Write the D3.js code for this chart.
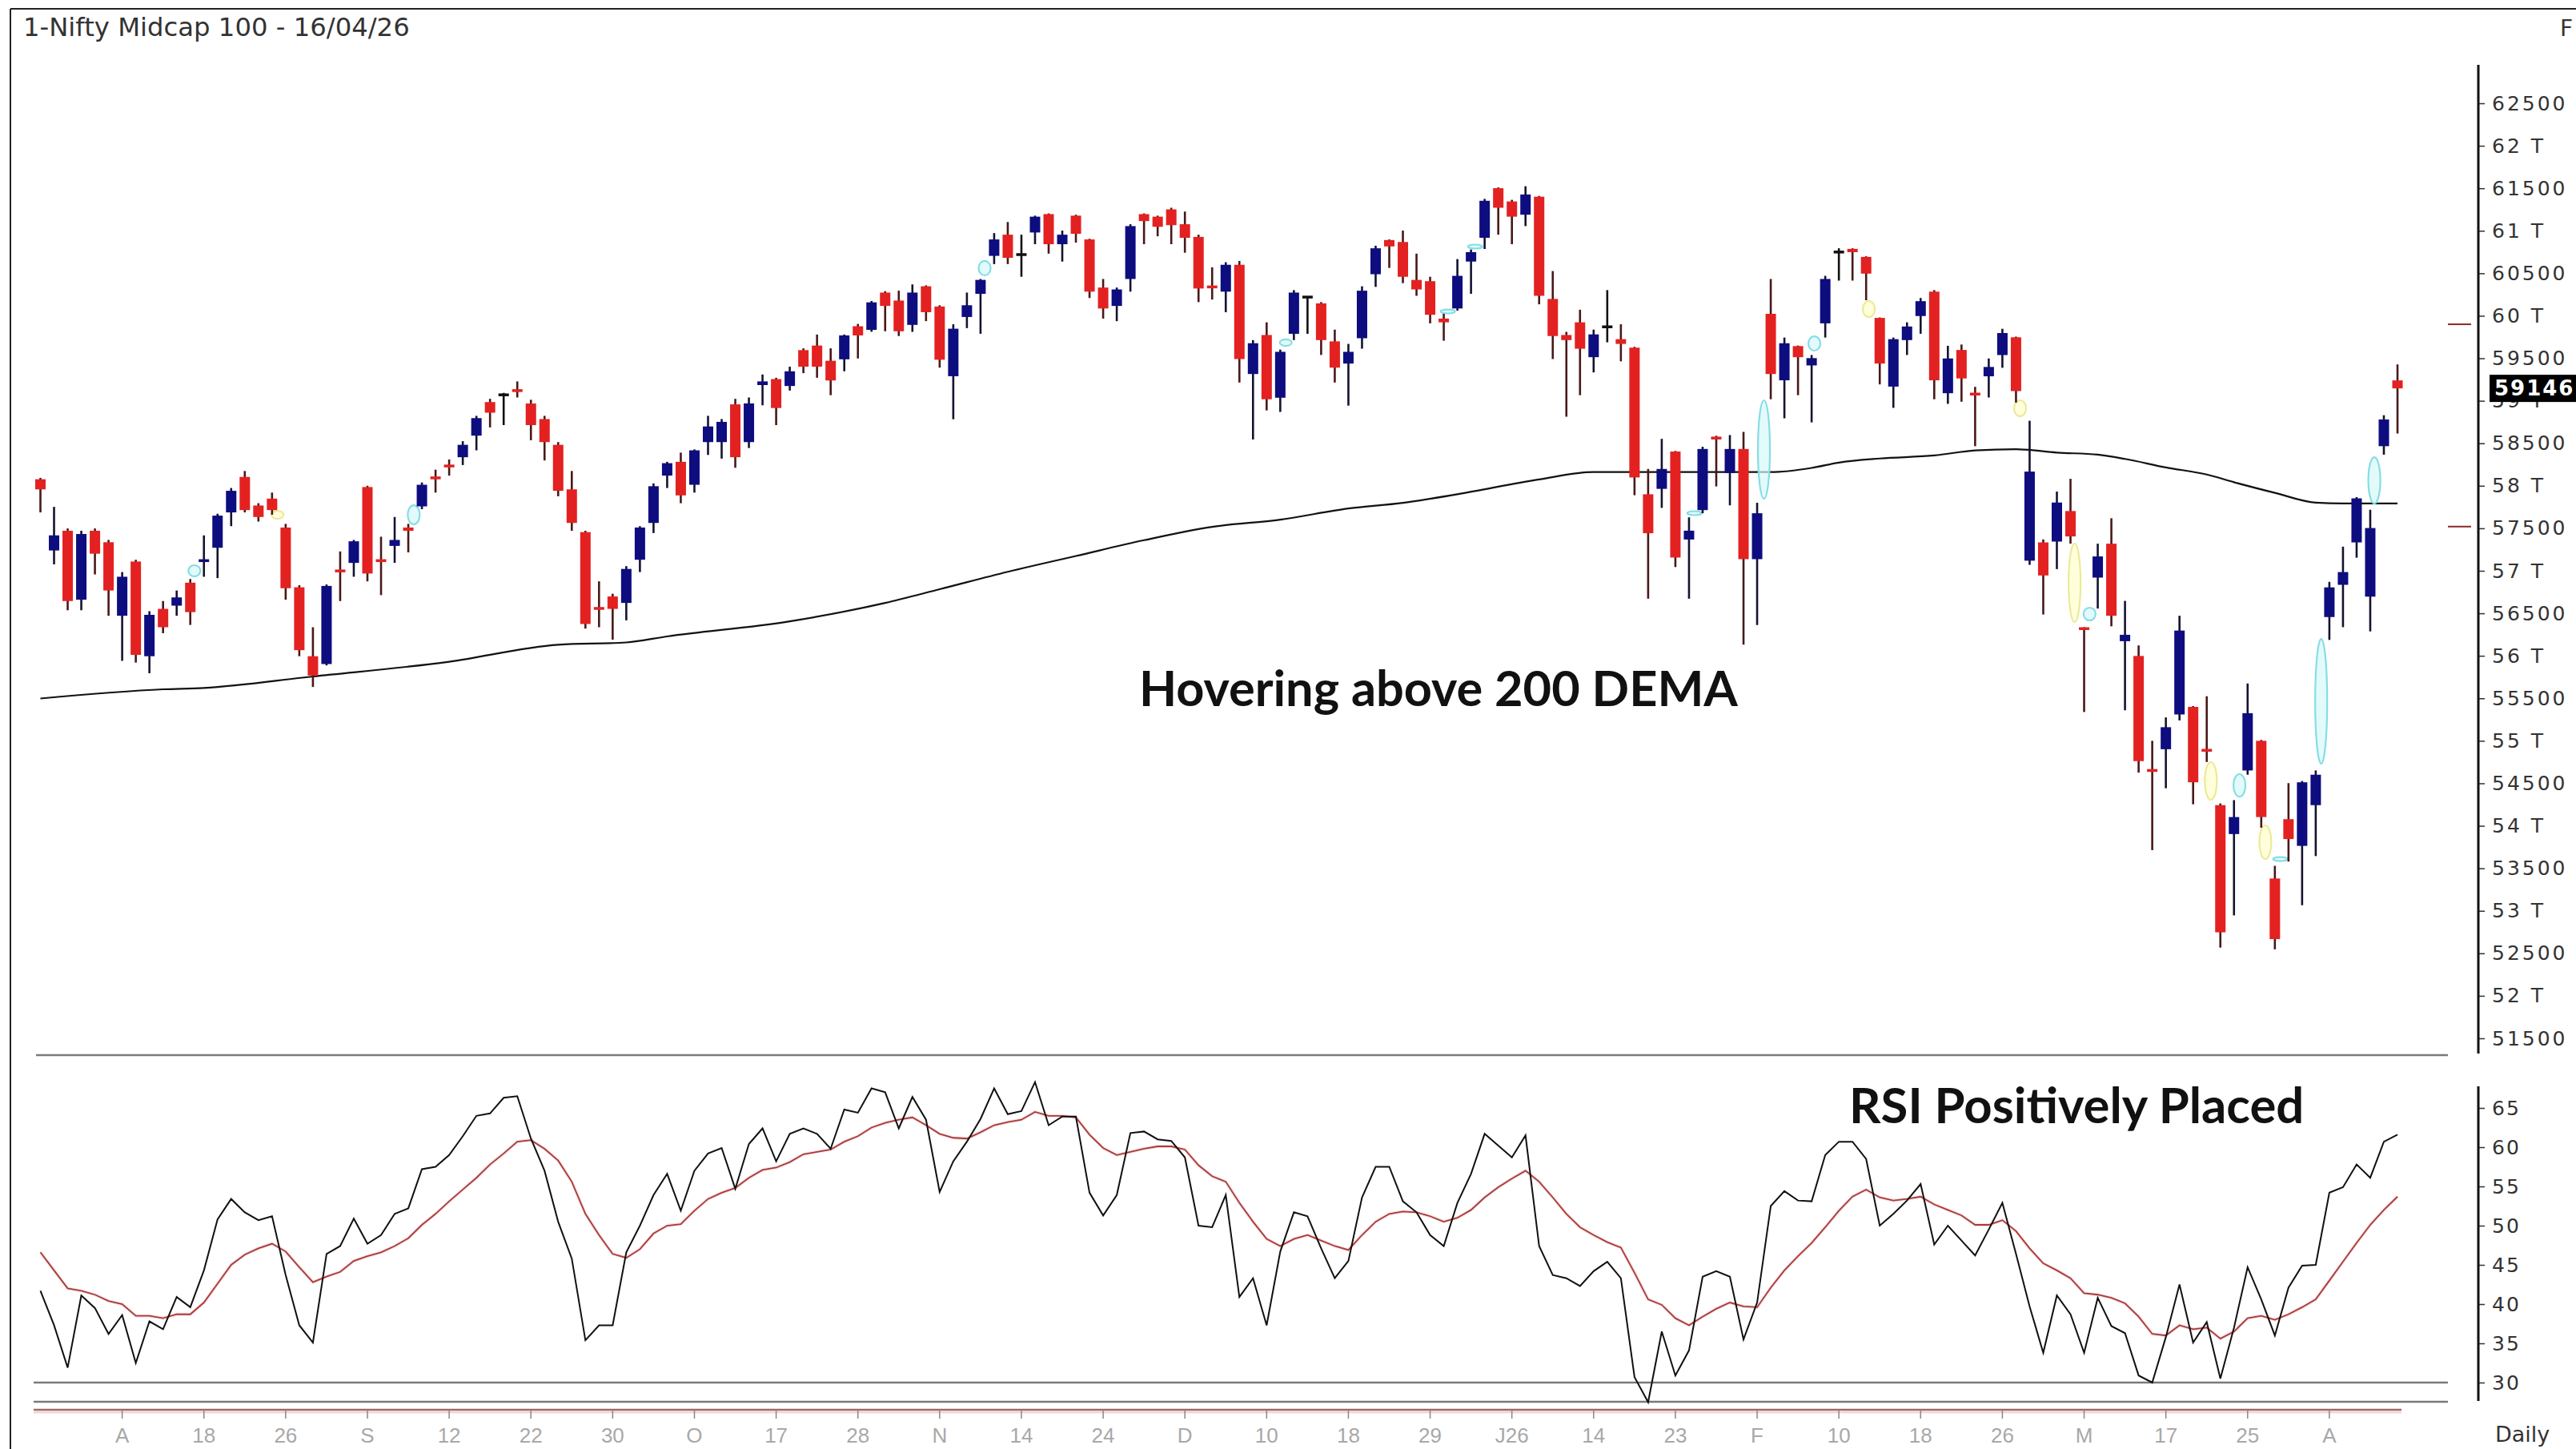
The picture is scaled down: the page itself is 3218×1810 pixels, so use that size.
<!DOCTYPE html>
<html><head><meta charset="utf-8">
<script src="https://cdn.jsdelivr.net/npm/d3@7"></script>
<style>html,body{margin:0;padding:0;background:#fff;overflow:hidden}</style>
</head><body>
<svg id="chart" width="3218" height="1810"></svg>
<script>
// ---------------- DATA ----------------
const chartTitle = "1-Nifty Midcap 100 - 16/04/26";
const opens = [58077,57239,57471,56660,57471,57336,56471,57109,55995,56552,56590,56860,57109,57271,57687,58104,57768,57849,57509,56806,
55995,55903,57012,57093,57985,57130,57293,57509,57758,58104,58244,58336,58590,58985,59070,59131,58968,58785,58482,57958,
57455,56568,56698,56622,57130,57563,58120,58282,58012,58514,58514,58958,58514,59185,59255,59174,59596,59650,59471,59488,
59877,59834,60273,60179,59893,60347,60109,59289,59986,60258,60705,60954,60720,60980,61196,60842,61178,60898,60332,60116,
60433,61196,61166,61252,61077,60928,60347,60284,60600,59315,59774,59036,59788,60220,60146,59699,59438,59736,60489,60891,
60868,60422,60407,59967,60086,60638,60917,61501,61345,61189,61401,60198,59774,59923,59513,59870,59725,59625,57900,57964,
58403,57368,57714,58571,58150,58433,57137,60023,59241,59643,59416,59911,60750,60787,60693,59975,59167,59714,59997,60284,
59089,59598,59089,59288,59538,59747,57119,57334,57344,57703,56332,56920,57319,56172,55998,54661,54901,55310,55399,54901,
54243,53903,54651,55000,53380,54078,53764,54243,56456,56835,57334,56696,58466,59240];
const highs = [58093,57752,57498,57471,57498,57363,56985,57130,56525,56644,56768,56903,57417,57671,57974,58174,57795,57920,57552,56830,
56336,56839,57228,57363,58000,57401,57633,57552,58039,58190,58309,58525,58823,59023,59093,59228,59012,58823,58514,58174,
57471,56876,56730,57055,57525,58028,58282,58390,58428,58823,58785,59023,59039,59309,59271,59401,59617,59779,59617,59779,
59904,60174,60290,60295,60369,60358,60124,59900,60273,60433,60973,61103,60954,61178,61204,61002,61189,60906,60433,60332,
61077,61204,61178,61271,61226,60954,60570,60630,60645,59714,59923,59602,60302,60228,60161,59837,59669,60347,60824,60898,
61002,60731,60459,60023,60667,60779,61375,61510,61364,61524,61410,60526,59811,60071,59837,60302,59900,59635,58198,58552,
58410,57629,58459,58589,58597,58634,57800,60433,59744,59650,59539,60470,60794,60794,60700,59980,59744,59923,60209,60302,
59647,59662,59164,59498,59847,59755,58765,57369,57932,58082,56337,57319,57618,56646,56122,55000,55275,56471,55409,55524,
54263,54302,55674,55010,53529,54502,54527,54651,56870,57284,57867,57718,58830,59428];
const lows = [57687,57076,56536,56536,56957,56471,55941,55920,55795,56266,56471,56363,56930,56914,57525,57687,57579,57660,56660,55995,
55633,55887,56644,56930,56876,56714,57093,57217,57725,57920,58120,58244,58417,58687,58714,59039,58536,58298,57877,57471,
56320,56336,56190,56417,56985,57444,57974,57795,57920,58363,58320,58212,58444,58947,58714,59120,59325,59271,59066,59347,
59498,59812,59818,59762,59811,59937,59390,58783,59855,59788,60608,60608,60459,60842,60731,60638,60861,60209,59967,59937,
60284,60842,60935,60842,60742,60161,60191,60042,59215,58545,58887,58869,59714,59788,59539,59215,58943,59613,60340,60563,
60384,60235,59911,59707,60060,60258,60786,60954,60842,61055,60135,59491,58813,59066,59334,59688,59464,57889,56672,57740,
57044,56672,57677,57993,57770,56131,56362,59018,58794,59066,58746,59744,60414,60414,60183,59193,58917,59539,59788,59018,
58964,58989,58466,59039,59388,58979,57070,56486,57020,57319,55339,56556,56347,55359,54626,53714,54442,55240,54253,54751,
52567,52946,54601,53978,52547,53579,53066,53644,56187,56337,57154,56287,58366,58615];
const closes = [57958,57417,56644,57433,57201,56768,56930,56011,56482,56336,56687,56514,57130,57649,57941,57714,57633,57714,56795,56066,
55768,56822,56985,57347,56968,57109,57363,57471,58012,58082,58222,58482,58796,58860,59070,59109,58714,58514,57941,57563,
56374,56547,56552,57022,57509,57995,58266,57887,58417,58698,58752,58336,58969,59228,58915,59347,59401,59401,59239,59769,
59769,60158,60116,59818,60273,60042,59483,59848,60124,60422,60898,60682,60720,61166,60842,60954,60965,60284,60086,60310,
61055,61114,61047,61066,60917,60321,60332,60600,59491,59677,59018,59576,60273,60220,59714,59390,59576,60295,60794,60816,
60459,60310,60012,59923,60470,60749,61353,61271,61166,61427,60235,59762,59714,59613,59781,59870,59669,58098,57442,58198,
57156,57472,58433,58552,58433,57137,57677,59315,59677,59513,59502,60433,60750,60749,60496,59438,59725,59874,60172,59241,
59498,59263,59069,59398,59797,59114,58167,56945,57803,57404,56307,57169,56471,56247,54761,54641,55160,56297,54512,54876,
52747,54103,55325,54103,52667,53844,54512,54601,56805,56985,57852,57503,58780,59146];
const rsiValues = [41.7,37.3,31.9,41.1,39.5,36.2,38.6,32.5,37.8,36.8,40.9,39.6,44.3,50.8,53.4,51.7,50.7,51.2,43.7,37.3,
35.1,46.4,47.4,50.9,47.7,48.8,51.5,52.2,57.2,57.5,59.0,61.4,64.0,64.3,66.3,66.5,61.1,57.0,50.5,45.8,
35.4,37.3,37.3,46.6,50.0,53.9,56.6,51.9,57.0,59.2,59.9,54.7,60.4,62.4,58.2,61.7,62.4,61.7,59.8,64.8,
64.4,67.5,67.0,62.4,66.4,63.5,54.3,58.2,60.7,63.6,67.5,64.2,64.6,68.3,62.8,63.9,63.9,54.2,51.3,53.9,
61.8,62.0,61.0,60.8,58.7,50.0,49.8,53.9,40.9,43.3,37.3,46.7,51.7,51.2,47.1,43.3,45.5,53.6,57.5,57.5,
53.1,51.7,48.8,47.4,52.9,56.6,61.7,60.2,58.7,61.5,47.4,43.7,43.3,42.3,44.2,45.4,43.3,30.7,27.5,36.5,
30.9,34.1,43.5,44.2,43.5,35.5,40.2,52.5,54.4,53.2,53.1,59.0,60.7,60.7,58.5,50.0,51.5,53.2,55.3,47.6,
50.0,48.1,46.2,49.5,52.9,46.4,39.7,33.8,41.1,38.7,33.8,40.8,37.2,36.3,30.9,30.0,35.8,42.5,35.1,37.7,
30.5,37.0,44.7,40.6,36.0,42.1,44.9,45.0,54.2,54.9,57.8,56.1,60.7,61.6];
const rsiSignal = [46.6,44.3,42.0,41.7,41.2,40.4,40.0,38.5,38.5,38.2,38.7,38.7,40.2,42.6,45.0,46.3,47.1,47.7,46.7,44.7,
42.8,43.5,44.1,45.5,46.1,46.6,47.4,48.4,50.1,51.5,53.1,54.6,56.1,57.8,59.2,60.7,60.9,59.8,58.3,55.6,
51.5,48.8,46.4,45.9,47.0,49.0,50.0,50.2,51.9,53.4,54.2,54.8,56.1,57.1,57.4,58.1,59.1,59.4,59.7,60.7,
61.4,62.5,63.1,63.5,63.8,62.8,61.7,61.2,61.1,61.9,62.8,63.2,63.5,64.5,64.0,64.0,63.8,61.6,59.9,59.0,
59.4,59.8,60.1,60.1,59.7,57.7,56.3,55.6,52.9,50.5,48.3,47.4,48.3,48.8,48.1,47.4,46.9,48.8,50.5,51.5,
51.8,51.7,51.2,50.5,51.0,52.0,53.6,54.9,56.0,57.0,55.6,53.6,51.5,49.8,48.8,47.9,47.2,44.0,40.6,39.9,
38.2,37.3,38.4,39.4,40.2,39.7,39.6,42.1,44.3,46.1,47.8,49.8,51.9,53.7,54.6,53.6,53.2,53.4,53.7,52.7,
52.0,51.3,50.1,50.1,50.7,49.3,47.1,45.2,44.3,43.3,41.4,41.2,40.8,40.1,38.4,36.2,36.0,37.3,36.8,37.0,
35.6,36.5,38.2,38.5,38.0,38.7,39.6,40.6,43.0,45.4,47.8,50.1,52.0,53.7];
const demaIdx = [0,9,12,20,30,38,43,46,55,62,66,71,76,81,86,91,96,100,104,110,114,117,122,127,130,132,135,139,142,145,148,151,153,156,159,161,164,167,169,173];
const demaVal = [55498,55606,55622,55757,55930,56130,56157,56228,56406,56622,56783,56988,57174,57360,57517,57602,57733,57800,57900,58075,
58161,58161,58161,58161,58210,58273,58321,58357,58416,58431,58391,58366,58316,58216,58132,58042,57917,57802,57793,57793];
const xTickLabels = ["A","18","26","S","12","22","30","O","17","28","N","14","24","D","10","18","29","J26","14","23","F","10","18","26","M","17","25","A"];
const priceTicks = d3.range(51500, 62501, 500);
const rsiTicks = [30,35,40,45,50,55,60,65];
const lastClose = 59146;
const rangeMarks = [59900, 57520];
// pattern highlight ellipses: bar position, top price, bottom price, colour kind
const markerBar = [11.3,17.4,27.4,69.3,91.4,103.3,105.3,121.4,126.5,130.2,134.2,145.3,149.3,150.4,159.3,161.4,163.3,164.4,167.4,171.3];
const markerTop = [57066,57706,57772,60645,59722,60070,60833,57697,59006,59759,60174,59006,57320,56567,54749,54608,54005,53628,56199,58337];
const markerBot = [56934,57612,57546,60475,59646,60032,60795,57659,57848,59590,59985,58818,56397,56416,54306,54344,53609,53590,54730,57791];
const markerKind = ["c","y","c","c","c","c","c","c","c","c","y","y","y","c","y","c","y","c","c","c"];
const note1 = "Hovering above 200 DEMA";
const note2 = "RSI Positively Placed";

// ---------------- DRAWING ----------------
const svg = d3.select("#chart");
const N = closes.length;
const x = d3.scaleLinear().domain([0, N - 1]).range([50.5, 2995]);
const yP = d3.scaleLinear().domain([51500, 62500]).range([1297, 129]);
const yR = d3.scaleLinear().domain([30, 65]).range([1727, 1384]);
const AX = 3096;

svg.append("rect").attr("width", 3218).attr("height", 1810).attr("fill", "#fff");
// frame
svg.append("line").attr("x1", 13).attr("x2", 13).attr("y1", 11).attr("y2", 1810).attr("stroke", "#222").attr("stroke-width", 2);
svg.append("line").attr("x1", 13).attr("x2", 3218).attr("y1", 11).attr("y2", 11).attr("stroke", "#222").attr("stroke-width", 2);

function fitText(str, x0, x1, baseline, family, weight, color) {
  const t = svg.append("text").attr("x", x0).attr("y", baseline).text(str)
    .style("font-family", family).style("font-weight", weight).style("font-size", "60px").attr("fill", color);
  const w = t.node().getComputedTextLength();
  t.style("font-size", (60 * (x1 - x0) / w).toFixed(1) + "px");
  return t;
}

fitText(chartTitle, 29, 512, 45, "DejaVu Sans", "400", "#333");
svg.append("text").attr("x", 3198).attr("y", 45).text("F")
  .style("font-family", "DejaVu Sans").style("font-size", "28px").attr("fill", "#333");

// panel separator & RSI guide lines
svg.append("line").attr("x1", 45).attr("x2", 3058).attr("y1", 1318).attr("y2", 1318).attr("stroke", "#7a7a7a").attr("stroke-width", 2.5);
svg.append("line").attr("x1", 42).attr("x2", 3058).attr("y1", yR(30)).attr("y2", yR(30)).attr("stroke", "#7a7a7a").attr("stroke-width", 2.5);
svg.append("line").attr("x1", 42).attr("x2", 3058).attr("y1", 1751).attr("y2", 1751).attr("stroke", "#7a7a7a").attr("stroke-width", 2.5);
svg.append("line").attr("x1", 42).attr("x2", 3000).attr("y1", 1761).attr("y2", 1761).attr("stroke", "#9a6a6a").attr("stroke-width", 2.5);
svg.append("line").attr("x1", 42).attr("x2", 3000).attr("y1", 1764).attr("y2", 1764).attr("stroke", "#f4d6d6").attr("stroke-width", 3);

// DEMA line
const demaPts = demaIdx.map((d, k) => [x(d), yP(demaVal[k])]);
svg.append("path").attr("d", d3.line().curve(d3.curveMonotoneX)(demaPts))
  .attr("fill", "none").attr("stroke", "#111").attr("stroke-width", 2.2);

// markers
const mk = svg.append("g");
markerBar.forEach((b, k) => {
  const t = yP(markerTop[k]), bt = yP(markerBot[k]);
  const ry = Math.max(2.5, (bt - t) / 2);
  const cyan = markerKind[k] === "c";
  mk.append("ellipse").attr("cx", x(b)).attr("cy", (t + bt) / 2)
    .attr("rx", ry < 4 ? 9 : 7.5).attr("ry", ry)
    .attr("fill", cyan ? "rgba(215,248,250,0.7)" : "rgba(255,255,205,0.7)")
    .attr("stroke", cyan ? "#86dde6" : "#ecea98").attr("stroke-width", 2.2);
});

// candles
const cg = svg.append("g");
const BW = 13;
for (let i = 0; i < N; i++) {
  const o = opens[i], c = closes[i];
  const col = c > o ? "#0d0d80" : (c < o ? "#e42121" : "#111");
  const wick = c > o ? "#141430" : (c < o ? "#4a1818" : "#111");
  cg.append("line").attr("x1", x(i)).attr("x2", x(i)).attr("y1", yP(highs[i])).attr("y2", yP(lows[i]))
    .attr("stroke", wick).attr("stroke-width", 2.6);
  const top = yP(Math.max(o, c)), bot = yP(Math.min(o, c));
  const h = Math.max(3.5, bot - top);
  cg.append("rect").attr("x", x(i) - BW / 2).attr("y", (top + bot) / 2 - h / 2)
    .attr("width", BW).attr("height", h).attr("fill", col);
}

// RSI lines
svg.append("path").attr("d", d3.line().x((d, i) => x(i)).y(d => yR(d))(rsiSignal))
  .attr("fill", "none").attr("stroke", "#f3c8c8").attr("stroke-width", 4).attr("opacity", 0.6);
svg.append("path").attr("d", d3.line().x((d, i) => x(i)).y(d => yR(d))(rsiSignal))
  .attr("fill", "none").attr("stroke", "#a83a3a").attr("stroke-width", 1.8);
svg.append("path").attr("d", d3.line().x((d, i) => x(i)).y(d => yR(d))(rsiValues))
  .attr("fill", "none").attr("stroke", "#111").attr("stroke-width", 2);

// price axis
const pAxis = d3.axisRight(yP).tickValues(priceTicks).tickSize(8).tickPadding(9)
  .tickFormat(d => d % 1000 === 0 ? (d / 1000) + " T" : String(d));
const pg = svg.append("g").attr("transform", `translate(${AX},0)`).call(pAxis);
pg.select(".domain").remove();
pg.selectAll("line").attr("stroke", "#333").attr("stroke-width", 1.5);
pg.selectAll("text").style("font-family", "DejaVu Sans").style("font-size", "25px")
  .style("letter-spacing", "3px").attr("fill", "#333");
svg.append("line").attr("x1", AX).attr("x2", AX).attr("y1", 81).attr("y2", 1316).attr("stroke", "#111").attr("stroke-width", 3);

// range marks left of axis
rangeMarks.forEach(v => svg.append("line").attr("x1", 3058).attr("x2", 3087).attr("y1", yP(v)).attr("y2", yP(v))
  .attr("stroke", "#8a2a2a").attr("stroke-width", 2));

// last price box
svg.append("rect").attr("x", 3110).attr("y", yP(lastClose) - 17).attr("width", 120).attr("height", 34).attr("fill", "#000");
svg.append("text").attr("x", 3116).attr("y", yP(lastClose)).attr("dy", "0.36em").text(String(lastClose))
  .style("font-family", "DejaVu Sans").style("font-size", "26px").style("font-weight", "bold")
  .style("letter-spacing", "2px").attr("fill", "#fff");

// RSI axis
const rAxis = d3.axisRight(yR).tickValues(rsiTicks).tickSize(8).tickPadding(9);
const rg = svg.append("g").attr("transform", `translate(${AX},0)`).call(rAxis);
rg.select(".domain").remove();
rg.selectAll("line").attr("stroke", "#333").attr("stroke-width", 1.5);
rg.selectAll("text").style("font-family", "DejaVu Sans").style("font-size", "25px")
  .style("letter-spacing", "2px").attr("fill", "#333");
svg.append("line").attr("x1", AX).attr("x2", AX).attr("y1", 1357).attr("y2", 1750).attr("stroke", "#111").attr("stroke-width", 3);

// x axis ticks
const tickIdx = xTickLabels.map((d, k) => 6 + 6 * k);
const xg = svg.append("g");
tickIdx.forEach((ti, k) => {
  xg.append("line").attr("x1", x(ti)).attr("x2", x(ti)).attr("y1", 1761).attr("y2", 1772).attr("stroke", "#888").attr("stroke-width", 1.5);
  xg.append("text").attr("x", x(ti)).attr("y", 1802).attr("text-anchor", "middle").text(xTickLabels[k])
    .style("font-family", "Liberation Sans").style("font-size", "26px").attr("fill", "#a8a8a8");
});
svg.append("text").attr("x", 3117).attr("y", 1801).text("Daily")
  .style("font-family", "DejaVu Sans").style("font-size", "27px").attr("fill", "#333");

// annotations fitted to measured widths
fitText(note1, 1423, 2171, 882, "Lato", "700", "#111");
fitText(note2, 2310, 2878, 1403, "Lato", "700", "#111");
</script>
</body></html>
